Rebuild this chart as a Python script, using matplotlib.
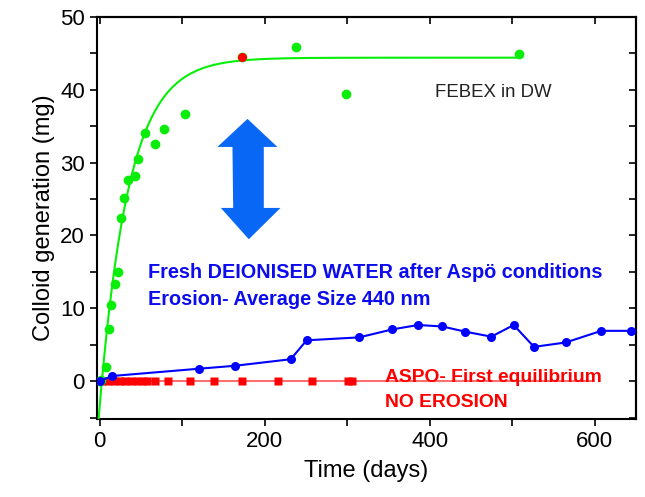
import numpy as np
import matplotlib
matplotlib.use("Agg")
import matplotlib.pyplot as plt
from matplotlib.patches import Polygon
from matplotlib.ticker import MultipleLocator

plt.rcParams['font.family'] = ['Liberation Sans', 'DejaVu Sans']

# FEBEX in DW (green)
febex_x = [0, 2, 7.3, 10.9, 14.2, 19, 22.2, 25.5, 29.5, 34.3, 42.4, 46.5, 55.4,
           67.5, 78, 103.8, 173, 238.4, 298, 508]
febex_y = [0, 0.1, 2.0, 7.2, 10.4, 13.3, 15.0, 22.4, 25.2, 27.6, 28.2, 30.5, 34.1,
           32.6, 34.6, 36.7, 44.5, 45.9, 39.4, 44.9]
# exponential fit of FEBEX data: y = A*(1-exp(-k*(x-x0)))
fit_A, fit_k, fit_x0 = 44.4, 0.028, 2.6
fit_range = (-1.5, 508)

# Fresh deionised water after Aspo conditions (blue)
fresh_x = [0, 15, 120.4, 163.6, 231.5, 250.8, 314.3, 354.8, 385.9, 415.4, 442.4,
           474.7, 501.8, 526.4, 564.8, 608, 643.6]
fresh_y = [0, 0.7, 1.7, 2.1, 3.0, 5.6, 6.0, 7.1, 7.7, 7.5, 6.8,
           6.1, 7.7, 4.7, 5.3, 6.9, 6.9]

# ASPO first equilibrium (red)
aspo_x = [3, 10, 17, 24, 31, 38, 45, 52, 57, 67, 83, 109, 138, 173, 216, 257, 301, 306]
aspo_y = [0] * len(aspo_x)
aspo_fit_range = (0, 598)
aspo_extra_x, aspo_extra_y = [173], [44.5]

x_ticks = [0, 200, 400, 600]
y_ticks = [0, 10, 20, 30, 40, 50]

fig = plt.figure(figsize=(6.45, 4.97), dpi=100)
ax = fig.add_axes([0.150, 0.157, 0.836, 0.809])

green = '#08ee08'
blue = '#0000ff'
red = '#ff0000'

# fit curve
xf = np.linspace(fit_range[0], fit_range[1], 600)
yf = fit_A * (1 - np.exp(-fit_k * (xf - fit_x0)))
ax.plot(xf, yf, color=green, lw=1.5, zorder=3)
ax.plot(febex_x, febex_y, 'o', color=green, ms=7, mec='none', zorder=4)

# red
ax.plot(aspo_fit_range, [0, 0], color='#ff7070', lw=1.5, zorder=2)
ax.plot(aspo_x, aspo_y, 's', color=red, ms=6, mec='none', zorder=3)
ax.plot(aspo_extra_x, aspo_extra_y, 'o', color=red, ms=6.5, mec='none', zorder=5)

# blue
ax.plot(fresh_x, fresh_y, '-o', color=blue, lw=1.5, ms=6.5, mec='none', zorder=4)

ax.set_xlim(-3.6, 650)
ax.set_ylim(-5.2, 50)
ax.set_xticks(x_ticks)
ax.set_yticks(y_ticks)
ax.xaxis.set_minor_locator(MultipleLocator(100))
ax.yaxis.set_minor_locator(MultipleLocator(5))
ax.tick_params(which='both', direction='out', length=5, width=1.2,
               labelsize=16, top=False, right=False)
for s in ax.spines.values():
    s.set_linewidth(1.5)

sx = ax.secondary_xaxis('top')
sx.set_xticks(x_ticks)
sx.xaxis.set_minor_locator(MultipleLocator(100))
sx.tick_params(which='both', direction='in', length=5, width=1.2, labeltop=False)
sx.spines['top'].set_linewidth(1.5)
sy = ax.secondary_yaxis('right')
sy.set_yticks(y_ticks)
sy.yaxis.set_minor_locator(MultipleLocator(5))
sy.tick_params(which='both', direction='in', length=5, width=1.2, labelright=False)
sy.spines['right'].set_linewidth(1.5)

ax.set_xlabel('Time (days)', fontsize=17, labelpad=6)
ax.set_ylabel('Colloid generation (mg)', fontsize=17, labelpad=4)

# double arrow (axes fraction)
arrow_pts = [(0.2796, 0.7463), (0.3350, 0.6766), (0.3098, 0.6766), (0.3098, 0.5249),
             (0.3408, 0.5249), (0.2820, 0.4470), (0.2301, 0.5249), (0.2530, 0.5249),
             (0.2517, 0.6766), (0.2238, 0.6766)]
ax.add_patch(Polygon(arrow_pts, closed=True, transform=ax.transAxes,
                     facecolor='#0868f5', edgecolor='none', zorder=2))

ax.text(0.627, 0.800, 'FEBEX in DW', transform=ax.transAxes, fontsize=13.4,
        color='#222222', va='baseline')
ax.text(0.0952, 0.3515, 'Fresh DEIONISED WATER after Aspö conditions',
        transform=ax.transAxes, fontsize=14.3, color='#0c0cee', fontweight='bold',
        va='baseline')
ax.text(0.0952, 0.2836, 'Erosion- Average Size 440 nm',
        transform=ax.transAxes, fontsize=14.3, color='#0c0cee', fontweight='bold',
        va='baseline')
ax.text(0.5343, 0.0928, 'ASPO- First equilibrium', transform=ax.transAxes,
        fontsize=13.9, color=red, fontweight='bold', va='baseline', zorder=6)
ax.text(0.5343, 0.0306, 'NO EROSION', transform=ax.transAxes,
        fontsize=13.9, color=red, fontweight='bold', va='baseline', zorder=6)

fig.savefig('out.png', dpi=100)
